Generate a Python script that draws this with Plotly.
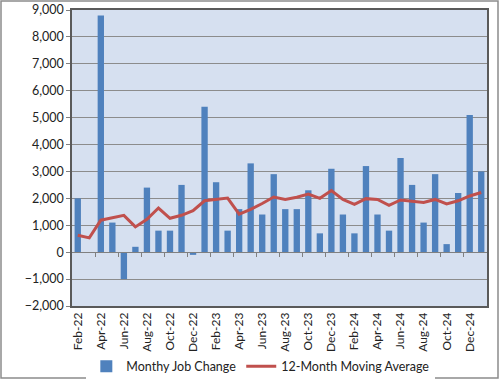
import plotly.graph_objects as go

months = ["Feb-22","Mar-22","Apr-22","May-22","Jun-22","Jul-22","Aug-22","Sep-22","Oct-22","Nov-22","Dec-22",
          "Jan-23","Feb-23","Mar-23","Apr-23","May-23","Jun-23","Jul-23","Aug-23","Sep-23","Oct-23","Nov-23","Dec-23",
          "Jan-24","Feb-24","Mar-24","Apr-24","May-24","Jun-24","Jul-24","Aug-24","Sep-24","Oct-24","Nov-24","Dec-24",
          "Jan-25"]
job_change = [2000, 0, 8800, 1100, -1000, 200, 2400, 800, 800, 2500, -100,
              5400, 2600, 800, 1600, 3300, 1400, 2900, 1600, 1600, 2300, 700, 3100,
              1400, 700, 3200, 1400, 800, 3500, 2500, 1100, 2900, 300, 2200, 5100,
              3000]
moving_avg = [630, 530, 1190, 1290, 1370, 940, 1220, 1640, 1260, 1370, 1540,
              1910, 1970, 2010, 1410, 1590, 1810, 2050, 1960, 2040, 2160, 2000, 2290,
              1960, 1780, 1990, 1960, 1740, 1940, 1890, 1850, 1960, 1790, 1910, 2090,
              2220]
y_ticks = list(range(-2000, 9001, 1000))

idx = list(range(len(months)))
label_idx = idx[::2]
label_text = months[::2]

font = "Lato, 'Open Sans', sans-serif"

fig = go.Figure()
fig.add_trace(go.Bar(x=idx, y=job_change, name="Monthy Job Change",
                     marker=dict(color="#4F81BD", line=dict(width=0))))
fig.add_trace(go.Scatter(x=idx, y=moving_avg, name="12-Month Moving Average", mode="lines",
                         line=dict(color="#C0504D", width=3), xaxis="x2"))

fig.update_layout(
    width=500, height=380,
    margin=dict(l=72, r=13, t=10, b=74, autoexpand=False),
    paper_bgcolor="white",
    plot_bgcolor="#D6E0F0",
    bargap=0.45,
    font=dict(family=font, size=12, color="#222222"),
    showlegend=True,
    legend=dict(orientation="h", x=0.455, xanchor="center", y=-0.205, yanchor="middle",
                font=dict(size=12.5), itemwidth=30, tracegroupgap=0),
    xaxis=dict(range=[-0.5, len(months) - 0.5], tickmode="array", tickvals=label_idx,
               ticktext=label_text, tickangle=-90, ticks="", showgrid=False,
               showline=True, linecolor="#5A5A5A", linewidth=1.5, mirror=True,
               zeroline=False, tickfont=dict(size=12)),
    xaxis2=dict(range=[-0.5, len(months) - 0.5], overlaying="x", anchor="free",
                position=(0 - y_ticks[0]) / (y_ticks[-1] - y_ticks[0]),
                showticklabels=False, showgrid=False, showline=True,
                linecolor="#808080", linewidth=1, zeroline=False,
                tickmode="array", tickvals=[], ticks="",
                minor=dict(tickmode="array", tickvals=[i - 0.5 for i in label_idx[1:]],
                           ticks="outside", ticklen=4, tickcolor="#808080", showgrid=False)),
    yaxis=dict(range=[y_ticks[0], y_ticks[-1]], tickmode="array", tickvals=y_ticks,
               tickformat=",", showgrid=True, gridcolor="#8C8C8C", gridwidth=1,
               ticks="outside", ticklen=4, tickcolor="#808080",
               showline=True, linecolor="#5A5A5A", linewidth=1.5, mirror=True,
               zeroline=False, tickfont=dict(size=12.5)),
)

fig.add_shape(type="rect", xref="paper", yref="paper",
              x0=(1 - 72) / 415, x1=(498 - 72) / 415,
              y0=(306 - 378) / 296, y1=(306 - 1) / 296,
              line=dict(color="#8C8C8C", width=1.5), layer="below")

fig.write_html("out.html", config={"displayModeBar": False},
               post_script="document.body.style.margin='0';")
